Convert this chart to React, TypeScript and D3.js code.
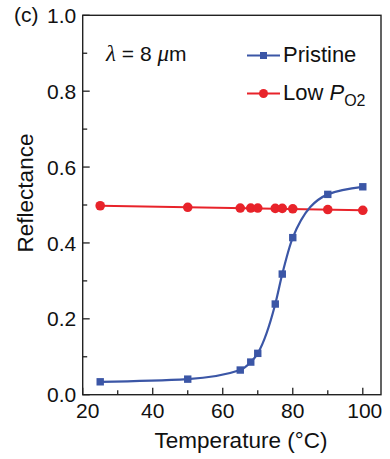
import React from "react";
import * as d3 from "d3";

const pristineT = [25, 50, 65, 68, 70, 75, 77, 80, 90, 100];
const pristineR = [0.034, 0.041, 0.065, 0.086, 0.109, 0.239, 0.318, 0.414, 0.528, 0.548];
const lowT = [25, 50, 65, 68, 70, 75, 77, 80, 90, 100];
const lowR = [0.498, 0.494, 0.492, 0.492, 0.492, 0.491, 0.491, 0.490, 0.488, 0.486];
const xMajorTicks = [20, 40, 60, 80, 100];
const xMinorTicks = [30, 50, 70, 90];
const yMajorTicks = [0, 0.2, 0.4, 0.6, 0.8, 1.0];
const yMinorTicks = [0.1, 0.3, 0.5, 0.7, 0.9];

const BLUE = "#3b56a6";
const RED = "#e8232a";
const FONT = "'Liberation Sans', Arial, Helvetica, sans-serif";

export default function App() {
  const W = 390, H = 459;
  const left = 82.7, right = 381, top = 15.3, bottom = 394.7;
  const x = d3.scaleLinear().domain([20, 105.2]).range([left, right]);
  const y = d3.scaleLinear().domain([0, 1]).range([bottom, top]);

  const pristine = pristineT.map((t, i) => [t, pristineR[i]] as [number, number]);
  const low = lowT.map((t, i) => [t, lowR[i]] as [number, number]);

  const curveLine = d3.line<[number, number]>()
    .x(d => x(d[0])).y(d => y(d[1])).curve(d3.curveMonotoneX);
  const straightLine = d3.line<[number, number]>()
    .x(d => x(d[0])).y(d => y(d[1]));
  const lowFit: [number, number][] = [low[0], low[low.length - 1]];

  const sq = 7.4;
  const cr = 4.8;
  const axisColor = "#222";

  return (
    <svg width={W} height={H} style={{ position: "absolute", left: 0, top: 0, background: "#fff" }}
      fontFamily={FONT}>
      {/* frame */}
      <rect x={left} y={top} width={right - left} height={bottom - top} fill="none"
        stroke={axisColor} strokeWidth={1.4} />
      {/* y ticks */}
      {yMajorTicks.map(v => (
        <g key={"ym" + v}>
          <line x1={left} x2={left + 7} y1={y(v)} y2={y(v)} stroke={axisColor} strokeWidth={1.3} />
          <text x={left - 6.5} y={y(v)} dy="0.36em" textAnchor="end" fontSize={21} fill="#111">
            {v.toFixed(1)}
          </text>
        </g>
      ))}
      {yMinorTicks.map(v => (
        <line key={"yn" + v} x1={left} x2={left + 4.5} y1={y(v)} y2={y(v)} stroke={axisColor} strokeWidth={1.3} />
      ))}
      {/* x ticks */}
      {xMajorTicks.map(v => (
        <g key={"xm" + v}>
          <line x1={x(v)} x2={x(v)} y1={bottom} y2={bottom - 7} stroke={axisColor} strokeWidth={1.3} />
          <text x={x(v) + (v === 20 ? 5 : v === 100 ? 2 : 0)} y={bottom + 23.5} textAnchor="middle" fontSize={21} fill="#111">
            {v}
          </text>
        </g>
      ))}
      {xMinorTicks.map(v => (
        <line key={"xn" + v} x1={x(v)} x2={x(v)} y1={bottom} y2={bottom - 4.5} stroke={axisColor} strokeWidth={1.3} />
      ))}

      {/* axis titles */}
      <text x={241} y={448} textAnchor="middle" fontSize={22.5} fill="#111">Temperature (°C)</text>
      <text transform={`translate(33,193) rotate(-90)`} textAnchor="middle" fontSize={22.5} fill="#111">Reflectance</text>
      <text x={14} y={22} fontSize={21} fill="#111">(c)</text>

      {/* annotation */}
      <text x={106} y={61} fontSize={21} fill="#111">
        <tspan fontStyle="italic" fontFamily="'Liberation Serif', 'Times New Roman', serif" fontSize={23}>λ</tspan>
        <tspan> = 8 </tspan>
        <tspan fontStyle="italic" fontFamily="'Liberation Serif', 'Times New Roman', serif" fontSize={23}>μ</tspan>
        <tspan>m</tspan>
      </text>

      {/* series */}
      <path d={straightLine(lowFit) || ""} fill="none" stroke={RED} strokeWidth={2} />
      {low.map((d, i) => (
        <circle key={"l" + i} cx={x(d[0])} cy={y(d[1])} r={cr} fill={RED} />
      ))}
      <path d={curveLine(pristine) || ""} fill="none" stroke={BLUE} strokeWidth={2.2} />
      {pristine.map((d, i) => (
        <rect key={"p" + i} x={x(d[0]) - sq / 2} y={y(d[1]) - sq / 2} width={sq} height={sq} fill={BLUE} />
      ))}

      {/* legend */}
      <g>
        <line x1={247} x2={280} y1={55.5} y2={55.5} stroke={BLUE} strokeWidth={2.2} />
        <rect x={263.5 - 3.5} y={55.5 - 3.5} width={7} height={7} fill={BLUE} />
        <text x={283} y={62} fontSize={22} fill="#111">Pristine</text>
        <line x1={247} x2={280} y1={93.5} y2={93.5} stroke={RED} strokeWidth={2.2} />
        <circle cx={263.5} cy={93.5} r={4.5} fill={RED} />
        <text x={283} y={100} fontSize={22} fill="#111">
          <tspan>Low </tspan>
          <tspan fontStyle="italic">P</tspan>
          <tspan fontSize={16} dy={6}>O2</tspan>
        </text>
      </g>
    </svg>
  );
}
